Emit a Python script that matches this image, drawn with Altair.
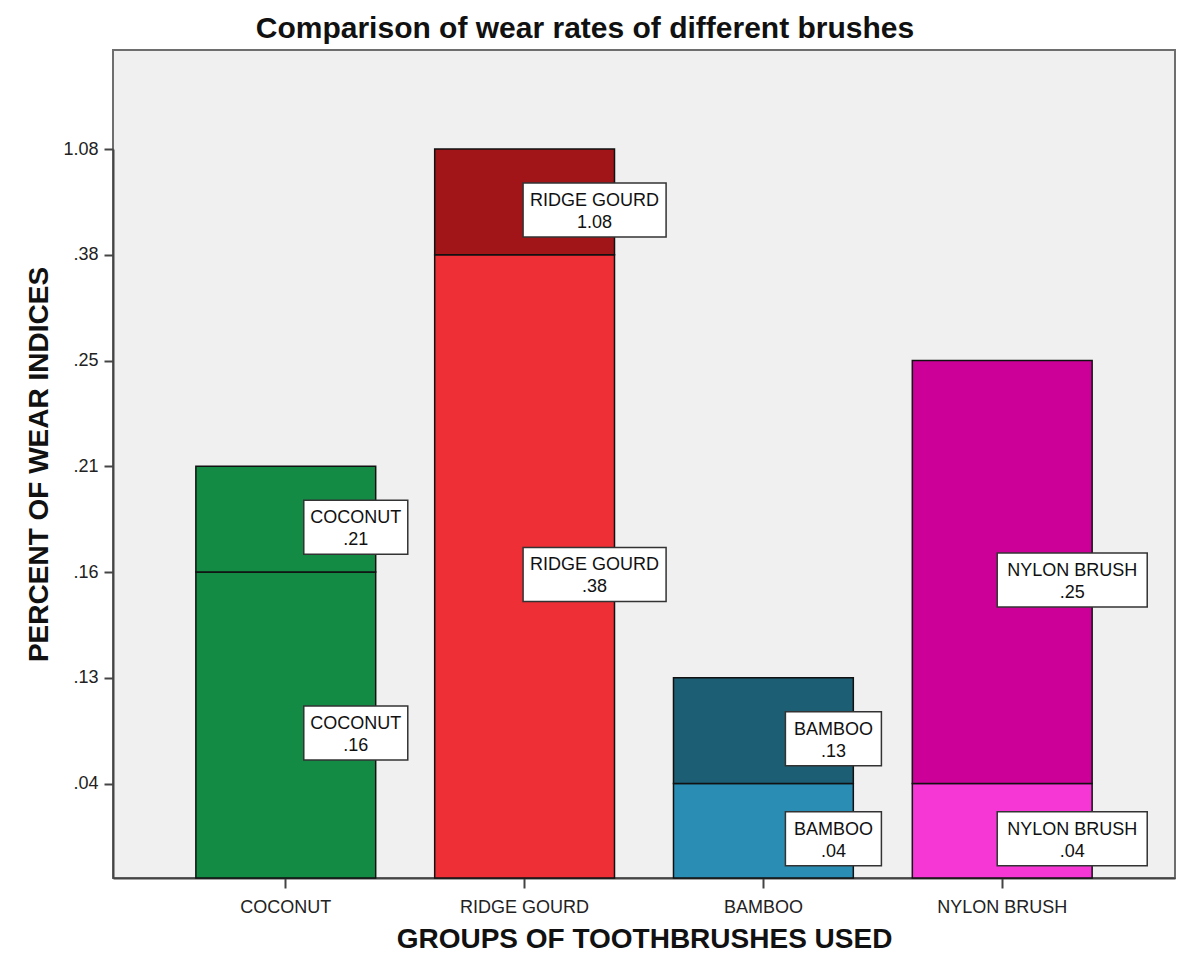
import altair as alt
import numpy as np
import pandas as pd

# ---- data -----------------------------------------------------------------
BRUSHES = ["COCONUT", "RIDGE GOURD", "BAMBOO", "NYLON BRUSH"]
LOWER = [0.16, 0.38, 0.04, 0.04]          # lower segment value per brush
UPPER = [0.21, 1.08, 0.13, 0.25]          # top of each bar
LOWER_COLORS = ["#138b45", "#ee2f36", "#2a8eb4", "#f637d6"]
UPPER_COLORS = ["#138b45", "#a11418", "#1c5e74", "#cc0099"]
Y_TICKS = [0.04, 0.13, 0.16, 0.21, 0.25, 0.38, 1.08]

# ---- layout / style -------------------------------------------------------
FONT = "Liberation Sans"
PLOT_W, PLOT_H = 1062, 828
FIRST_GAP, STEP = 94.5, 105.75            # y axis: ticks evenly spaced (piecewise scale)
BOX_H = 54
BOX_W = {"COCONUT": 104, "RIDGE GOURD": 143, "BAMBOO": 96, "NYLON BRUSH": 150}
BOX_SIZE = 40000                          # custom symbol unit = sqrt(size)/2 = 100 px

# piecewise-linear y scale: 0 at the floor, each tick value one step apart
Y_DOMAIN = [0.0] + Y_TICKS
PX_UP = [0.0] + [FIRST_GAP + i * STEP for i in range(len(Y_TICKS))]
Y_RANGE = [PLOT_H - p for p in PX_UP]


def to_px(v):
    return float(np.interp(v, Y_DOMAIN, PX_UP))


def to_val(p):
    return float(np.interp(p, PX_UP, Y_DOMAIN))


def fmt(v):
    return f"{v:.2f}".lstrip("0")


rows, labels = [], []
for b, lo, hi, cl, cu in zip(BRUSHES, LOWER, UPPER, LOWER_COLORS, UPPER_COLORS):
    rows.append({"brush": b, "y0": 0.0, "y1": lo, "color": cl})
    rows.append({"brush": b, "y0": lo, "y1": hi, "color": cu})
    labels.append({"brush": b, "ymid": to_val((to_px(0) + to_px(lo)) / 2),
                   "text": f"{b}\n{fmt(lo)}"})
    labels.append({"brush": b, "ymid": to_val((to_px(lo) + to_px(hi)) / 2),
                   "text": f"{b}\n{fmt(hi)}"})
bars_df = pd.DataFrame(rows)
labels_df = pd.DataFrame(labels)


def box_path(w):
    hw, hh = w / 200, BOX_H / 200
    return f"M{-hw},{-hh}L{hw},{-hh}L{hw},{hh}L{-hw},{hh}Z"


BOX_PATHS = [box_path(BOX_W[b]) for b in BRUSHES]

x_scale = alt.Scale(domain=BRUSHES, paddingInner=0.247, paddingOuter=0.347)
y_scale = alt.Scale(domain=Y_DOMAIN, range=Y_RANGE, nice=False, zero=False)

x_axis = alt.Axis(
    title="GROUPS OF TOOTHBRUSHES USED", labelAngle=0,
    domainColor="#444", domainWidth=2, tickColor="#444", tickWidth=2, tickSize=10,
    labelPadding=10, labelFont=FONT, labelFontSize=18, labelColor="#222",
    titleFont=FONT, titleFontSize=28, titleFontWeight="bold", titleColor="#111",
    titleY=69, titleBaseline="alphabetic",
)
y_axis = alt.Axis(
    values=Y_TICKS, labelExpr="replace(format(datum.value, '.2f'), '0.', '.')",
    title="PERCENT OF WEAR INDICES", grid=False,
    domainColor="#444", domainWidth=2, tickColor="#444", tickWidth=2, tickSize=9,
    labelPadding=6, labelFont=FONT, labelFontSize=18, labelColor="#222",
    titleFont=FONT, titleFontSize=28, titleFontWeight="bold", titleColor="#111",
    titleX=-66, titleY=PLOT_H / 2, titleAngle=270, titleAlign="center",
    titleBaseline="alphabetic",
)

bars = alt.Chart(bars_df).mark_bar(stroke="#111", strokeWidth=1.5).encode(
    x=alt.X("brush:N", scale=x_scale, axis=x_axis, sort=BRUSHES),
    y=alt.Y("y1:Q", scale=y_scale, axis=y_axis),
    y2="y0:Q",
    color=alt.Color("color:N", scale=None),
)

boxes = alt.Chart(labels_df).mark_point(
    filled=True, fill="white", stroke="#333", strokeWidth=1.5, opacity=1,
    size=BOX_SIZE, xOffset=70, yOffset=8,
).encode(
    x=alt.X("brush:N", scale=x_scale, sort=BRUSHES),
    y=alt.Y("ymid:Q", scale=y_scale),
    shape=alt.Shape("brush:N", scale=alt.Scale(domain=BRUSHES, range=BOX_PATHS), legend=None),
)

texts = alt.Chart(labels_df).mark_text(
    font=FONT, fontSize=18, lineBreak="\n", lineHeight=22, align="center",
    baseline="middle", color="#111", xOffset=70, yOffset=-1,
).encode(
    x=alt.X("brush:N", scale=x_scale, sort=BRUSHES),
    y=alt.Y("ymid:Q", scale=y_scale),
    text="text:N",
)

chart = alt.layer(bars, boxes, texts).properties(
    width=PLOT_W, height=PLOT_H,
    title=alt.TitleParams(
        "Comparison of wear rates of different brushes", font=FONT, fontSize=30,
        fontWeight="bold", color="#111", anchor="middle", dx=-59, dy=27, offset=9,
        baseline="alphabetic",
    ),
    autosize=alt.AutoSizeParams(type="none"),
    padding={"left": 113, "top": 50, "right": 2, "bottom": 85},
    background="white",
).configure_view(fill="#f0f0f0", stroke="#6e6e6e", strokeWidth=2)

chart.save("out.html", embed_options={"renderer": "svg", "actions": False})
